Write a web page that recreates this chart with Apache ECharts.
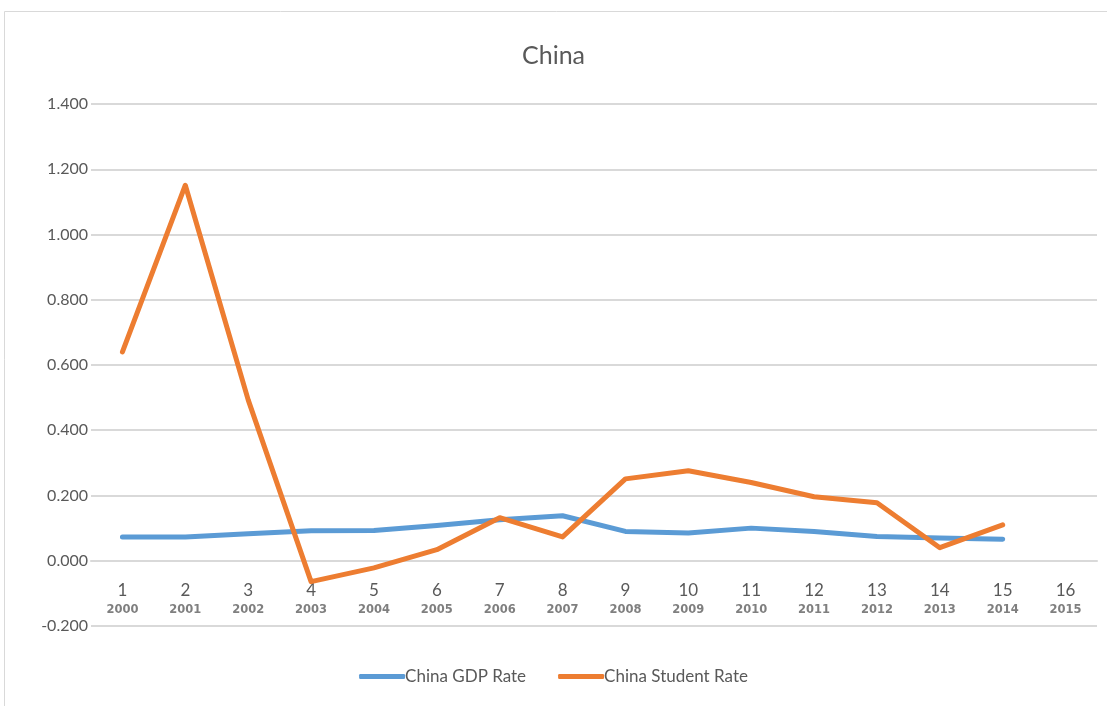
<!DOCTYPE html>
<html>
<head>
<meta charset="utf-8">
<script src="https://cdn.jsdelivr.net/npm/echarts@6/dist/echarts.min.js"></script>
<style>
html,body{margin:0;padding:0;background:#fff;}
#main{width:1107px;height:706px;}
</style>
</head>
<body>
<div id="main"></div>
<script>
var idx=['1','2','3','4','5','6','7','8','9','10','11','12','13','14','15','16'];
var years=['2000','2001','2002','2003','2004','2005','2006','2007','2008','2009','2010','2011','2012','2013','2014','2015'];
var gdpRate=[0.073,0.073,0.083,0.092,0.093,0.108,0.126,0.138,0.090,0.085,0.100,0.090,0.074,0.070,0.066,null];
var studentRate=[0.640,1.151,0.493,-0.064,-0.022,0.034,0.132,0.073,0.251,0.276,0.240,0.196,0.178,0.040,0.110,null];

var chart=echarts.init(document.getElementById('main'));
var cats=idx.map(function(v,i){return v+'\n'+years[i];});
var option={
	backgroundColor:'#fff',
	textStyle:{fontFamily:'Lato'},
	title:{
		text:'China',
		left:'center',
		top:38,
		textStyle:{fontSize:25,fontWeight:'normal',color:'#595959',fontFamily:'Lato'}
	},
	graphic:[{
		type:'rect',
		shape:{x:4.5,y:11.5,width:1110,height:700},
		style:{fill:null,stroke:'#d9d9d9',lineWidth:1},
		silent:true
	}],
	legend:{
		bottom:16,
		left:'center',
		itemWidth:46,
		itemHeight:5,
		itemGap:32,
		icon:'roundRect',
		textStyle:{fontSize:17,color:'#595959',padding:[0,0,0,-5]},
		data:['China GDP Rate','China Student Rate']
	},
	grid:{left:91,right:10,top:104,bottom:80},
	xAxis:{
		type:'category',
		data:cats,
		boundaryGap:true,
		offset:-65,//x轴放在0的位置
		axisLine:{lineStyle:{color:'#d9d9d9',width:2}},
		axisTick:{show:false},
		axisLabel:{
			margin:20,
			interval:0,
			formatter:function(v){
				var p=v.split('\n');
				return '{n|'+p[0]+'}\n{y|'+p[1]+'}';
			},
			rich:{
				n:{fontSize:17,color:'#595959',lineHeight:20,fontFamily:'Lato'},
				y:{fontSize:11.5,fontWeight:'bold',color:'#7f7f7f',lineHeight:19,fontFamily:'Verdana, DejaVu Sans'}
			}
		}
	},
	yAxis:{
		type:'value',
		min:-0.2,
		max:1.4,
		interval:0.2,
		axisLine:{show:false},
		axisTick:{show:false},
		splitLine:{lineStyle:{color:'#d9d9d9',width:2}},
		axisLabel:{
			fontSize:16,
			color:'#595959',
			margin:3,
			formatter:function(v){return v.toFixed(3);}
		}
	},
	series:[{
		name:'China GDP Rate',
		type:'line',
		data:gdpRate,
		symbol:'none',
		lineStyle:{width:5,color:'#5b9bd5',cap:'round',join:'round'},
		itemStyle:{color:'#5b9bd5'}
	},{
		name:'China Student Rate',
		type:'line',
		data:studentRate,
		symbol:'none',
		lineStyle:{width:5,color:'#ed7d31',cap:'round',join:'round'},
		itemStyle:{color:'#ed7d31'}
	}]
};
chart.setOption(option);
window.addEventListener('resize',function(){
	chart.resize();
});
</script>
</body>
</html>
